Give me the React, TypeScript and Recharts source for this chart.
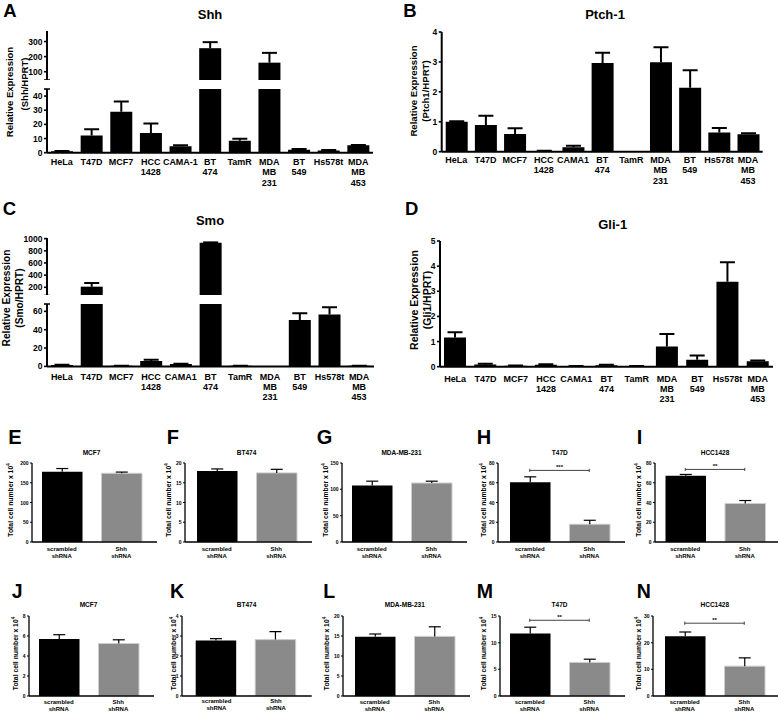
import React from 'react';
import { BarChart, Bar, XAxis, YAxis, ReferenceLine, Cell } from 'recharts';

const FONT = '"Liberation Sans", Arial, Helvetica, sans-serif';

// ---------- Panels A–D (cell lines) ----------
const cellLinesA = ['HeLa', 'T47D', 'MCF7', 'HCC 1428', 'CAMA-1', 'BT 474', 'TamR', 'MDA MB 231', 'BT 549', 'Hs578t', 'MDA MB 453'];
const cellLinesBCD = ['HeLa', 'T47D', 'MCF7', 'HCC 1428', 'CAMA1', 'BT 474', 'TamR', 'MDA MB 231', 'BT 549', 'Hs578t', 'MDA MB 453'];

const shhMean = [1.0, 12.2, 29.0, 14.0, 4.6, 256, 8.4, 160, 2.0, 1.5, 5.2];
const shhSem = [0.2, 4.3, 7.1, 6.6, 0.7, 40, 1.5, 65, 0.6, 0.4, 0.3];
const ptchMean = [1.0, 0.89, 0.59, 0.02, 0.15, 2.96, 0.005, 2.99, 2.14, 0.64, 0.58];
const ptchSem = [0.02, 0.31, 0.19, 0.01, 0.05, 0.35, 0.0, 0.5, 0.58, 0.15, 0.04];
const smoMean = [1.5, 210, 0.6, 6.0, 2.5, 930, 0.6, 0.0, 50.5, 56.5, 0.6];
const smoSem = [0.3, 60, 0.1, 1.2, 0.3, 8, 0.1, 0.0, 7.5, 8.0, 0.1];
const gliMean = [1.16, 0.09, 0.04, 0.08, 0.02, 0.06, 0.02, 0.8, 0.28, 3.38, 0.22];
const gliSem = [0.21, 0.03, 0.01, 0.02, 0.005, 0.02, 0.005, 0.5, 0.17, 0.77, 0.03];

const shhTicksTop = [100, 200, 300];
const shhTicksBottom = [0, 10, 20, 30, 40];
const ptchTicks = [0, 1, 2, 3, 4];
const smoTicksTop = [200, 400, 600, 800, 1000];
const smoTicksBottom = [0, 20, 40, 60];
const gliTicks = [0, 1, 2, 3, 4, 5];

// ---------- Panels E–N (shRNA cell counts) ----------
const groups = ['scrambled shRNA', 'Shh shRNA'];
const eMean = [178, 174]; const eSem = [8, 3];
const fMean = [18.0, 17.5]; const fSem = [0.5, 0.9];
const gMean = [107.5, 112]; const gSem = [8, 3.5];
const hMean = [60.5, 18]; const hSem = [5.5, 4];
const iMean = [67, 39]; const iSem = [1.4, 3];
const jMean = [5.7, 5.25]; const jSem = [0.43, 0.37];
const kMean = [2.77, 2.82]; const kSem = [0.1, 0.4];
const lMean = [14.8, 14.9]; const lSem = [0.7, 2.4];
const mMean = [11.7, 6.3]; const mSem = [1.2, 0.6];
const nMean = [22.4, 11.2]; const nSem = [1.6, 3.1];

const eTicks = [0, 50, 100, 150, 200];
const fTicks = [0, 5, 10, 15, 20];
const gTicks = [0, 50, 100, 150];
const hTicks = [0, 20, 40, 60, 80];
const iTicks = [0, 20, 40, 60, 80];
const jTicks = [0, 2, 4, 6, 8];
const kTicks = [0, 1, 2, 3, 4];
const lTicks = [0, 5, 10, 15, 20];
const mTicks = [0, 5, 10, 15];
const nTicks = [0, 10, 20, 30];

const BIG = { barSize: 22, cap: 7.5, sw: 2, aw: 2, fs: 8.5, xfs: 9, lh: 10.3, first: 12.5, ts: 3, tm: 1.5 };
const SMALL = { barSize: 40.5, cap: 6, sw: 1.2, aw: 1.3, fs: 5, xfs: 6, lh: 7, first: 8.5, ts: 2, tm: 1.5 };

const MultiTick = (props: any) => {
  const { x, y, payload, fs, lh, first } = props;
  const lines = String(payload.value).split(' ');
  return (
    <text x={x} y={y} textAnchor="middle" fontSize={fs} fontWeight="bold" fontFamily={FONT} fill="#000">
      {lines.map((l: string, i: number) => (
        <tspan key={i} x={x} dy={i === 0 ? first : lh}>{l}</tspan>
      ))}
    </text>
  );
};

const YTick = (props: any) => {
  const { x, y, payload, fs, breakVal, gap } = props;
  if (breakVal !== undefined && payload.value === breakVal) {
    return <line x1={x + gap} x2={x + gap + 3} y1={y} y2={y} stroke="#000" strokeWidth={1.5} />;
  }
  return (
    <text x={x} y={y} textAnchor="end" dominantBaseline="central" fontSize={fs} fontWeight="bold" fontFamily={FONT} fill="#000">
      {payload.value}
    </text>
  );
};

const Whisker = (props: any) => {
  const { x, y, width, height, cap, sw } = props;
  if (!(height > 0.05)) return <g />;
  const cx = x + width / 2;
  return (
    <g>
      <line x1={cx} x2={cx} y1={y} y2={y + height} stroke="#000" strokeWidth={sw} />
      <line x1={cx - cap} x2={cx + cap} y1={y} y2={y} stroke="#000" strokeWidth={sw} />
    </g>
  );
};

function Chart(p: any) {
  const s = p.s;
  const data = p.cats.map((name: string, i: number) => ({ name, mean: p.mean[i], sem: p.sem[i] }));
  const ticks = p.breakVal !== undefined ? [...p.ticks, p.breakVal] : p.ticks;
  return (
    <div style={{ position: 'absolute', left: p.left, top: p.top }}>
      <BarChart width={p.width} height={p.height} data={data}
        margin={{ top: p.mt, right: p.mr, bottom: 0, left: 0 }}>
        <XAxis dataKey="name" hide={!!p.hideX} height={p.xHeight || 0} interval={0}
          tickLine={false} tickSize={0} tickMargin={0}
          axisLine={{ stroke: '#000', strokeWidth: s.aw }}
          padding={{ left: p.padL || 0, right: p.padR || 0 }}
          tick={<MultiTick fs={s.xfs} lh={s.lh} first={p.first ?? s.first} />} />
        <YAxis type="number" domain={p.domain} ticks={ticks} allowDataOverflow interval={0}
          width={p.yWidth} tickSize={s.ts} tickMargin={s.tm}
          axisLine={{ stroke: '#000', strokeWidth: s.aw }}
          tickLine={{ stroke: '#000', strokeWidth: s.aw * 0.8 }}
          tick={<YTick fs={s.fs} breakVal={p.breakVal} gap={s.ts + s.tm} />} />
        <Bar dataKey="mean" stackId="s" barSize={s.barSize} isAnimationActive={false}>
          {data.map((_: any, i: number) => (
            <Cell key={i} fill={p.fills ? p.fills[i] : '#000'} stroke={p.strokes ? p.strokes[i] : 'none'} strokeWidth={1} />
          ))}
        </Bar>
        <Bar dataKey="sem" stackId="s" barSize={s.barSize} isAnimationActive={false}
          shape={(sp: any) => <Whisker {...sp} cap={s.cap} sw={s.sw} />} />
        {p.bracket && (
          <ReferenceLine segment={[{ x: p.cats[0], y: p.bracket.y }, { x: p.cats[1], y: p.bracket.y }]}
            stroke="#444" strokeWidth={1}
            label={{ value: p.bracket.label, position: 'top', offset: 1.5, fontSize: 6, fontWeight: 'bold', fill: '#000', fontFamily: FONT }} />
        )}
        {p.bracket && (
          <ReferenceLine segment={[{ x: p.cats[0], y: p.bracket.y - p.domain[1] * 0.02 }, { x: p.cats[0], y: p.bracket.y + p.domain[1] * 0.02 }]}
            stroke="#444" strokeWidth={1} />
        )}
        {p.bracket && (
          <ReferenceLine segment={[{ x: p.cats[1], y: p.bracket.y - p.domain[1] * 0.02 }, { x: p.cats[1], y: p.bracket.y + p.domain[1] * 0.02 }]}
            stroke="#444" strokeWidth={1} />
        )}
      </BarChart>
    </div>
  );
}

const smallPanels = [
  { letter: 'E', title: 'MCF7', mean: eMean, sem: eSem, ticks: eTicks, axisX: 32, padL: 0, row: 0, lx: 8.3, yl: 10 },
  { letter: 'F', title: 'BT474', mean: fMean, sem: fSem, ticks: fTicks, axisX: 185, padL: 2, row: 0, lx: 166.7, yl: 168.2 },
  { letter: 'G', title: 'MDA-MB-231', mean: gMean, sem: gSem, ticks: gTicks, axisX: 342, padL: 0, row: 0, lx: 316.7, yl: 325 },
  { letter: 'H', title: 'T47D', mean: hMean, sem: hSem, ticks: hTicks, axisX: 498.3, padL: 2, row: 0, lx: 476.7, yl: 483.8, bracket: { y: 72.5, label: '***' } },
  { letter: 'I', title: 'HCC1428', mean: iMean, sem: iSem, ticks: iTicks, axisX: 655, padL: 0.5, row: 0, lx: 636.7, yl: 638.3, bracket: { y: 73.5, label: '**' } },
  { letter: 'J', title: 'MCF7', mean: jMean, sem: jSem, ticks: jTicks, axisX: 29, padL: 0, row: 1, lx: 11.7, yl: 15 },
  { letter: 'K', title: 'BT474', mean: kMean, sem: kSem, ticks: kTicks, axisX: 182.3, padL: 4.7, row: 1, lx: 170, yl: 173.3 },
  { letter: 'L', title: 'MDA-MB-231', mean: lMean, sem: lSem, ticks: lTicks, axisX: 343.3, padL: 2, row: 1, lx: 323.3, yl: 326.7 },
  { letter: 'M', title: 'T47D', mean: mMean, sem: mSem, ticks: mTicks, axisX: 500, padL: 0, row: 1, lx: 476.7, yl: 483.3, bracket: { y: 14.2, label: '**' } },
  { letter: 'N', title: 'HCC1428', mean: nMean, sem: nSem, ticks: nTicks, axisX: 653.3, padL: 2, row: 1, lx: 636.7, yl: 638.3, bracket: { y: 27.3, label: '**' } },
];

const rows = [
  { top: 458.3, plotH: 79, xH: 22, first: 8.5, letterY: 444, letterFs: 20, titleY: 455, ylCy: 500 },
  { top: 611, plotH: 80, xH: 16, first: 7.5, letterY: 598.3, letterFs: 19.5, titleY: 606.7, ylCy: 653.5 },
];

const bigTexts = [
  { letter: 'A', lx: 3.3, ly: 16.7, title: 'Shh', tx: 210, ty: 19.3, yl1x: 9.2, yl1y: 92, yl2: '(Shh/HPRT)', yl2x: 24.2, yl2y: 84, yfs: 9.5 },
  { letter: 'B', lx: 403.3, ly: 16.7, title: 'Ptch-1', tx: 605, ty: 18.5, yl1x: 413.3, yl1y: 91, yl2: '(Ptch1/HPRT)', yl2x: 425.7, yl2y: 91, yfs: 9.6 },
  { letter: 'C', lx: 2.7, ly: 215, title: 'Smo', tx: 210, ty: 225, yl1x: 6.3, yl1y: 298, yl2: '(Smo/HPRT)', yl2x: 19.5, yl2y: 298, yfs: 10.2 },
  { letter: 'D', lx: 405, ly: 215, title: 'Gli-1', tx: 612.7, ty: 229, yl1x: 414.2, yl1y: 300, yl2: '(Gli1/HPRT)', yl2x: 426.7, yl2y: 300, yfs: 10.5 },
];

export default function App() {
  const fillsSmall = ['#000000', '#8a8a8a'];
  const strokesSmall = ['none', '#cdcdcd'];
  return (
    <div style={{ position: 'absolute', left: 0, top: 0, width: 778, height: 712, background: '#fff', overflow: 'hidden' }}>
      {/* A: broken axis, top and bottom segments */}
      <Chart s={BIG} left={0} top={26} width={378} height={54} mt={5} mr={5} yWidth={47} hideX
        cats={cellLinesA} mean={shhMean} sem={shhSem} domain={[45, 370]} ticks={shhTicksTop} breakVal={45} />
      <Chart s={BIG} left={0} top={84} width={378} height={113.7} mt={5} mr={5} yWidth={47} xHeight={45}
        cats={cellLinesA} mean={shhMean} sem={shhSem} domain={[0, 45]} ticks={shhTicksBottom} breakVal={45} />
      {/* B */}
      <Chart s={BIG} left={392} top={27.3} width={375} height={169.7} mt={5} mr={4.3} yWidth={49.7} xHeight={45}
        first={11.5} cats={cellLinesBCD} mean={ptchMean} sem={ptchSem} domain={[0, 4]} ticks={ptchTicks} />
      {/* C: broken axis */}
      <Chart s={BIG} left={0} top={232.5} width={378} height={62.5} mt={5} mr={4} yWidth={47} hideX
        cats={cellLinesBCD} mean={smoMean} sem={smoSem} domain={[65, 1010]} ticks={smoTicksTop} breakVal={65} />
      <Chart s={BIG} left={0} top={299.3} width={378} height={112.4} mt={5} mr={4} yWidth={47} xHeight={45}
        first={13.3} cats={cellLinesBCD} mean={smoMean} sem={smoSem} domain={[0, 68]} ticks={smoTicksBottom} breakVal={68} />
      {/* D */}
      <Chart s={BIG} left={390} top={236} width={386} height={175.7} mt={5} mr={3} yWidth={50} xHeight={45}
        first={15} cats={cellLinesBCD} mean={gliMean} sem={gliSem} domain={[0, 5]} ticks={gliTicks} />

      {/* E–N */}
      {smallPanels.map((sp) => {
        const r = rows[sp.row];
        const w = 30 + sp.padL + 119 + 6 + 1;
        return (
          <Chart key={sp.letter} s={SMALL} left={sp.axisX - 30} top={r.top} width={w} height={5 + r.plotH + r.xH}
            mt={5} mr={1} yWidth={30} xHeight={r.xH} first={r.first} padL={sp.padL} padR={6}
            cats={groups} mean={sp.mean} sem={sp.sem} domain={[0, sp.ticks[sp.ticks.length - 1]]} ticks={sp.ticks}
            fills={fillsSmall} strokes={strokesSmall} bracket={sp.bracket} />
        );
      })}

      <svg width={778} height={712} style={{ position: 'absolute', left: 0, top: 0, pointerEvents: 'none' }}
        fontFamily={FONT} fontWeight="bold" fill="#000">
        {bigTexts.map((t) => (
          <g key={t.letter}>
            <text x={t.lx} y={t.ly} fontSize={18.5}>{t.letter}</text>
            <text x={t.tx} y={t.ty} fontSize={13} textAnchor="middle">{t.title}</text>
            <text x={t.yl1x} y={t.yl1y} fontSize={t.yfs} textAnchor="middle" dominantBaseline="central"
              transform={`rotate(-90 ${t.yl1x} ${t.yl1y})`}>Relative Expression</text>
            <text x={t.yl2x} y={t.yl2y} fontSize={t.yfs} textAnchor="middle" dominantBaseline="central"
              transform={`rotate(-90 ${t.yl2x} ${t.yl2y})`}>{t.yl2}</text>
          </g>
        ))}
        {smallPanels.map((sp) => {
          const r = rows[sp.row];
          const cx = sp.axisX + sp.padL + 59.5;
          return (
            <g key={sp.letter}>
              <text x={sp.lx} y={r.letterY} fontSize={r.letterFs}>{sp.letter}</text>
              <text x={cx} y={r.titleY} fontSize={6.5} textAnchor="middle">{sp.title}</text>
              <text x={sp.yl} y={r.ylCy} fontSize={6.8} textAnchor="middle" dominantBaseline="central"
                transform={`rotate(-90 ${sp.yl} ${r.ylCy})`}>
                Total cell number x 10<tspan dy={-2.5} fontSize={4.5}>4</tspan>
              </text>
            </g>
          );
        })}
      </svg>
    </div>
  );
}
